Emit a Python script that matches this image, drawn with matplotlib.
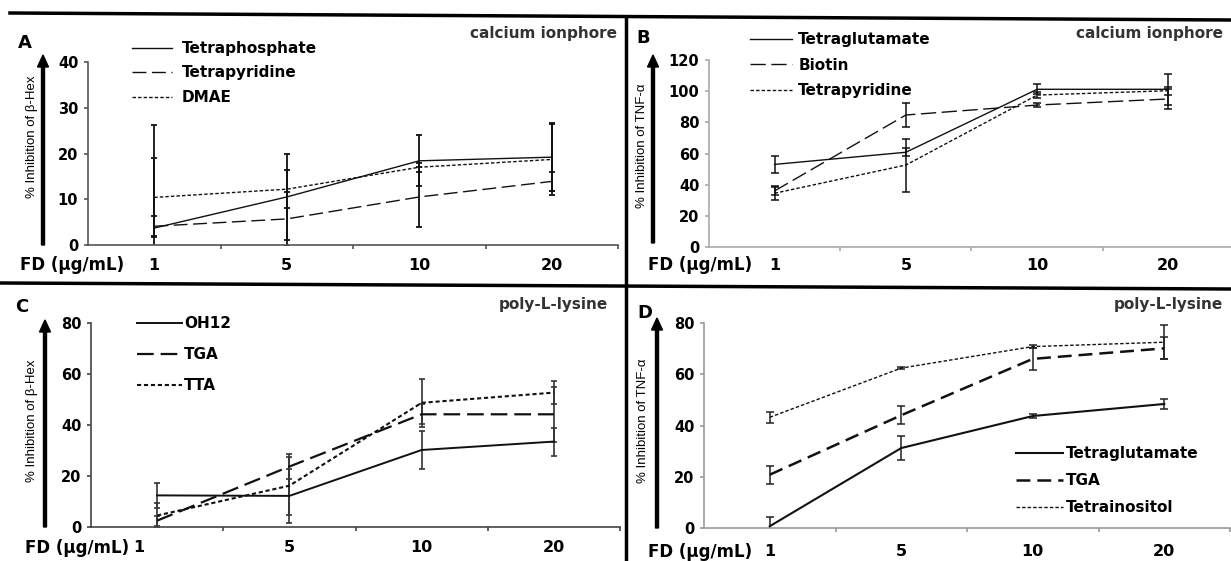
import matplotlib
matplotlib.use('Agg')
import matplotlib.pyplot as plt
import matplotlib.transforms as mtransforms
from matplotlib.lines import Line2D
from matplotlib.patches import FancyArrow

plt.rcParams['font.family'] = ['DejaVu Sans']
plt.rcParams['lines.scale_dashes'] = False

W, H = 1231, 561

# ---------------- data ----------------
doses = ['1', '5', '10', '20']
x_label = 'FD (µg/mL)'

# Panel A  (calcium ionophore, beta-Hex)
a_names = ['Tetraphosphate', 'Tetrapyridine', 'DMAE']
a_tetraphosphate = [3.7, 10.5, 18.4, 19.2]
a_tetraphosphate_err = [22.5, 9.4, 5.6, 7.4]
a_tetrapyridine = [4.1, 5.7, 10.5, 13.9]
a_tetrapyridine_err = [2.2, 5.9, 6.6, 2.1]
a_dmae = [10.4, 12.2, 17.0, 18.7]
a_dmae_err = [8.7, 4.2, 1.0, 7.8]

# Panel B  (calcium ionophore, TNF-alpha)
b_names = ['Tetraglutamate', 'Biotin', 'Tetrapyridine']
b_tetraglutamate = [53.0, 60.8, 101.2, 101.2]
b_tetraglutamate_err = [5.6, 2.5, 3.2, 10.0]
b_biotin = [36.0, 84.7, 91.1, 95.0]
b_biotin_err = [2.7, 7.7, 1.5, 6.4]
b_tetrapyridine = [34.5, 52.6, 97.5, 100.3]
b_tetrapyridine_err = [4.5, 17.0, 2.0, 2.5]

# Panel C  (poly-L-lysine, beta-Hex)
c_names = ['OH12', 'TGA', 'TTA']
c_oh12 = [12.4, 12.2, 30.2, 33.5]
c_oh12_err = [5.0, 10.5, 7.5, 5.5]
c_tga = [2.5, 23.7, 44.2, 44.2]
c_tga_err = [2.0, 5.0, 4.0, 10.8]
c_tta = [4.5, 16.2, 48.7, 52.7]
c_tta_err = [5.0, 11.4, 9.3, 4.4]

# Panel D  (poly-L-lysine, TNF-alpha)
d_names = ['Tetraglutamate', 'TGA', 'Tetrainositol']
d_tetraglutamate = [0.7, 31.2, 43.7, 48.4]
d_tetraglutamate_err = [3.6, 4.8, 0.8, 1.8]
d_tga = [20.8, 44.0, 66.0, 70.1]
d_tga_err = [3.5, 3.5, 4.3, 4.3]
d_tetrainositol = [43.2, 62.4, 70.8, 72.5]
d_tetrainositol_err = [2.2, 0.4, 0.6, 6.7]

# ---------------- figure ----------------
fig = plt.figure(figsize=(W / 100, H / 100), dpi=100)
pix = mtransforms.Affine2D().scale(1.0 / W, 1.0 / H) + fig.transFigure


def add_axes(left, right, top, bottom):
    return fig.add_axes([left / W, 1 - bottom / H, (right - left) / W, (bottom - top) / H])


def style_axes(ax, ymax, ystep, spine_color):
    ax.set_xlim(-0.5, 3.5)
    ax.set_ylim(0, ymax)
    for s in ['top', 'right']:
        ax.spines[s].set_visible(False)
    for s in ['left', 'bottom']:
        ax.spines[s].set_color(spine_color)
        ax.spines[s].set_linewidth(1.2)
    ax.set_xticks([])
    ax.set_xticks([0.5, 1.5, 2.5, 3.5], minor=True)
    ax.tick_params(axis='x', which='minor', direction='out', length=3,
                   width=1.2, color=spine_color)
    ax.set_yticks(range(0, ymax + 1, ystep))
    ax.tick_params(axis='y', direction='out', length=3, width=1.2,
                   color=spine_color, pad=4, labelsize=10.5)
    for t in ax.get_yticklabels():
        t.set_fontweight('bold')
    ax.patch.set_alpha(0)


def draw_series(ax, values, errs, names, styles, ecolor, elw, capsize):
    x = list(range(len(doses)))
    handles = []
    for v, e, n, st in zip(values, errs, names, styles):
        ln, = ax.plot(x, v, color=st.get('color', '#111111'), lw=st['lw'],
                      linestyle=st['ls'], label=n, zorder=3)
        ax.errorbar(x, v, yerr=e, fmt='none', ecolor=ecolor, elinewidth=elw,
                    capsize=capsize, capthick=elw, zorder=2)
        handles.append(ln)
    return handles


def add_legend(ax, handles, x, y, hlen, hpad, lspace):
    ax.legend(handles=handles, loc='upper left', bbox_to_anchor=(x, H - y),
              bbox_transform=pix, frameon=False, borderpad=0, borderaxespad=0,
              handlelength=hlen, handletextpad=hpad, labelspacing=lspace,
              prop={'weight': 'bold', 'size': 11})


def dose_labels(ax, offset_px, first_shift_px=0):
    for i, d in enumerate(doses):
        dx = first_shift_px if i == 0 else 0
        ax.annotate(d, xy=(i, 0), xycoords=('data', 'axes fraction'),
                    xytext=(dx * 0.72, -offset_px * 0.72), textcoords='offset points',
                    ha='center', va='center', fontsize=11.5, fontweight='bold')


def ftext(x, y, s, **kw):
    fig.text(x, H - y, s, transform=pix, **kw)


def yarrow(x, y0, y1):
    fig.add_artist(FancyArrow(x, H - y0, 0, y0 - y1, width=3, head_width=11,
                              head_length=12, length_includes_head=True,
                              color='black', transform=pix))


# ---------------- Panel A ----------------
axA = add_axes(88, 618, 62, 245)
style_axes(axA, 40, 10, '#555555')
hA = draw_series(axA, [a_tetraphosphate, a_tetrapyridine, a_dmae],
                 [a_tetraphosphate_err, a_tetrapyridine_err, a_dmae_err], a_names,
                 [{'ls': '-', 'lw': 1.0}, {'ls': (0, (10, 4)), 'lw': 1.0},
                  {'ls': (0, (2.5, 1.5)), 'lw': 1.0}], '#111111', 1.3, 2.5)
add_legend(axA, hA, 132, 41, 2.6, 0.65, 0.62)
dose_labels(axA, 20)

# ---------------- Panel B ----------------
axB = add_axes(709, 1234, 60, 247)
style_axes(axB, 120, 20, '#aaaaaa')
hB = draw_series(axB, [b_tetraglutamate, b_biotin, b_tetrapyridine],
                 [b_tetraglutamate_err, b_biotin_err, b_tetrapyridine_err], b_names,
                 [{'ls': '-', 'lw': 1.0}, {'ls': (0, (11, 4)), 'lw': 1.0},
                  {'ls': (0, (2.5, 1.5)), 'lw': 1.0}], '#111111', 1.1, 3)
add_legend(axB, hB, 750, 32, 2.75, 0.4, 0.7)
dose_labels(axB, 18)

# ---------------- Panel C ----------------
axC = add_axes(91, 620, 323, 527)
style_axes(axC, 80, 20, '#444444')
hC = draw_series(axC, [c_oh12, c_tga, c_tta],
                 [c_oh12_err, c_tga_err, c_tta_err], c_names,
                 [{'ls': '-', 'lw': 1.4}, {'ls': (0, (12, 5)), 'lw': 1.6},
                  {'ls': (0, (3, 2)), 'lw': 1.5}], '#333333', 1.2, 2.5)
add_legend(axC, hC, 137, 316, 2.95, 0.15, 1.06)
dose_labels(axC, 21, first_shift_px=-18)

# ---------------- Panel D ----------------
axD = add_axes(704, 1230, 323, 528)
style_axes(axD, 80, 20, '#999999')
hD = draw_series(axD, [d_tetraglutamate, d_tga, d_tetrainositol],
                 [d_tetraglutamate_err, d_tga_err, d_tetrainositol_err], d_names,
                 [{'ls': '-', 'lw': 1.5}, {'ls': (0, (10, 5)), 'lw': 1.8},
                  {'ls': (0, (2.5, 1.5)), 'lw': 1.0}], '#222222', 1.1, 3)
add_legend(axD, hD, 1016, 446, 3.1, 0.15, 0.8)
dose_labels(axD, 24)

# ---------------- decorations ----------------
# x-axis name
ftext(20, 265, x_label, ha='left', va='center', fontsize=12, fontweight='bold')
ftext(648, 265, x_label, ha='left', va='center', fontsize=12, fontweight='bold')
ftext(25, 548, x_label, ha='left', va='center', fontsize=12, fontweight='bold')
ftext(648, 552, x_label, ha='left', va='center', fontsize=12, fontweight='bold')

# y-axis names
yl_kw = dict(rotation=90, ha='center', va='center', fontsize=9.5,
             family=['Liberation Sans', 'DejaVu Sans'])
ftext(32, 137, '% Inhibition of β-Hex', **yl_kw)
ftext(642, 146, '% Inhibition of TNF-α', **yl_kw)
ftext(32, 421, '% Inhibition of β-Hex', **yl_kw)
ftext(643, 421, '% Inhibition of TNF-α', **yl_kw)

# arrows
yarrow(43, 245, 55)
yarrow(653, 243, 55)
yarrow(45, 527, 320)
yarrow(657, 528, 318)

# panel letters
for s, x, y in [('A', 25, 43), ('B', 643, 38), ('C', 22, 307), ('D', 645, 313)]:
    ftext(x, y, s, ha='center', va='center', fontsize=13, fontweight='bold')

# stimulus labels
st_kw = dict(ha='right', va='center', fontsize=11, fontweight='bold', color='#333333')
ftext(617, 33, 'calcium ionphore', **st_kw)
ftext(1223, 33, 'calcium ionphore', **st_kw)
ftext(608, 305, 'poly-L-lysine', **st_kw)
ftext(1223, 305, 'poly-L-lysine', **st_kw)

# frame dividers
fig.add_artist(Line2D([10, 1231], [H - 13, H - 20], transform=pix, color='black', lw=2.5))
fig.add_artist(Line2D([0, 1231], [H - 283, H - 289], transform=pix, color='black', lw=2.5))
fig.add_artist(Line2D([626, 626], [H - 17, 0], transform=pix, color='black', lw=2.5))

fig.savefig('out.png', dpi=100)
